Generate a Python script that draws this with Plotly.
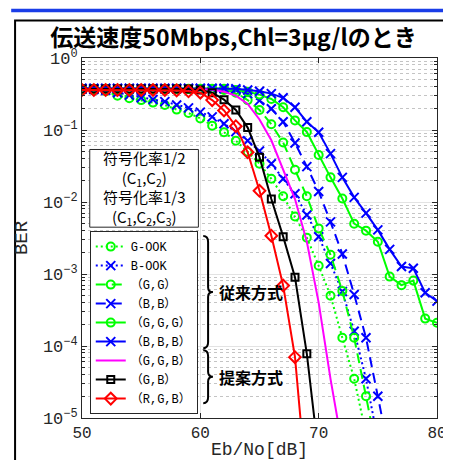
import plotly.graph_objects as go

# ---------------- data ----------------
snr = list(range(50, 81))  # Eb/No [dB]

g_ook = [0.36, 0.355, 0.345, 0.30, 0.277, 0.26, 0.24, 0.222, 0.192, 0.172, 0.145,
         0.115, 0.093, 0.071, 0.050, 0.034, 0.021, 0.012, 0.0063, 0.0032, 0.0013,
         0.0005, 0.00013, 0.000035, 0.000006]
b_ook = [0.37, 0.365, 0.355, 0.33, 0.305, 0.28, 0.265, 0.248, 0.222, 0.203, 0.177,
         0.152, 0.122, 0.095, 0.071, 0.051, 0.034, 0.021, 0.013, 0.0066, 0.0033,
         0.0014, 0.00057, 0.00016, 0.000035, 0.000005]
gg = [0.37, 0.37, 0.37, 0.37, 0.37, 0.37, 0.37, 0.37, 0.37, 0.37, 0.37, 0.37,
      0.36, 0.33, 0.26, 0.19, 0.12, 0.067, 0.028, 0.012, 0.0043, 0.00185,
      0.00058, 0.00013, 0.00002, 0.000003]
bb = [0.375, 0.375, 0.375, 0.375, 0.375, 0.375, 0.375, 0.375, 0.375, 0.375, 0.375,
      0.375, 0.375, 0.36, 0.32, 0.256, 0.197, 0.13, 0.066, 0.031, 0.014, 0.0053,
      0.0019, 0.00052, 0.00013, 0.00002, 0.000003]
ggg = [0.375, 0.375, 0.375, 0.375, 0.375, 0.375, 0.375, 0.375, 0.375, 0.375, 0.375,
       0.375, 0.375, 0.36, 0.34, 0.31, 0.27, 0.207, 0.136, 0.094, 0.045, 0.022,
       0.0112, 0.005, 0.004, 0.0028, 0.00092, 0.0007, 0.00081, 0.00024, 0.00021]
bbb = [0.38, 0.38, 0.38, 0.38, 0.38, 0.38, 0.38, 0.38, 0.38, 0.38, 0.38, 0.38,
       0.38, 0.375, 0.36, 0.345, 0.32, 0.28, 0.207, 0.13, 0.093, 0.047, 0.022,
       0.0116, 0.007, 0.0041, 0.0022, 0.00127, 0.0012, 0.00055, 0.00042]
ggb = [0.37, 0.37, 0.37, 0.37, 0.37, 0.37, 0.37, 0.37, 0.37, 0.37, 0.37, 0.365,
       0.34, 0.30, 0.23, 0.14, 0.072, 0.029, 0.011, 0.0028, 0.0004, 0.000035,
       0.000004]
gb = [0.37, 0.37, 0.37, 0.37, 0.37, 0.37, 0.37, 0.37, 0.37, 0.37, 0.36, 0.33,
      0.264, 0.19, 0.108, 0.042, 0.011, 0.0033, 0.0009, 0.000078, 0.000003]
rgb = [0.36, 0.36, 0.36, 0.36, 0.36, 0.36, 0.36, 0.36, 0.355, 0.345, 0.33, 0.26,
       0.187, 0.113, 0.049, 0.0143, 0.0034, 0.00069, 0.00007, 0.000001]

names = ["G-OOK", "B-OOK", "（G,G）", "（B,B）", "（G,G,G）", "（B,B,B）",
         "（G,G,B）", "（G,B）", "（R,G,B）"]
values = [g_ook, b_ook, gg, bb, ggg, bbb, ggb, gb, rgb]

x_ticks = [50, 60, 70, 80]
y_ticks = [1e-5, 1e-4, 1e-3, 1e-2, 1e-1, 1]
y_exps = ["−5", "−4", "−3", "−2", "−1", "0"]
y_minor = [k * 10.0 ** e for e in range(-5, 0) for k in range(2, 10)]

title_text = "伝送速度50Mbps,Chl=3μg/lのとき"
rate_text = ("符号化率1/2<br>(C<sub>1</sub>,C<sub>2</sub>)<br>"
             "符号化率1/3<br>(C<sub>1</sub>,C<sub>2</sub>,C<sub>3</sub>)")
group_labels = ["従来方式", "提案方式"]

y_ticktext = [f"10<sup>{e}</sup>" for e in y_exps]

# ---------------- styles ----------------
GREEN, BLUE, MAG, BLK, RED = "#00ff00", "#0000ff", "#ff00ff", "#000000", "#ff0000"
DOT, DASH = "2px,3px", "10px,6px"
styles = [
    dict(color=GREEN, dash=DOT, symbol="circle-open", size=8),
    dict(color=BLUE, dash=DOT, symbol="x-thin-open", size=9),
    dict(color=GREEN, dash=DASH, symbol="circle-open", size=8),
    dict(color=BLUE, dash=DASH, symbol="x-thin-open", size=9),
    dict(color=GREEN, dash="solid", symbol="circle-open", size=8),
    dict(color=BLUE, dash="solid", symbol="x-thin-open", size=9),
    dict(color=MAG, dash="solid", symbol=None, size=0),
    dict(color=BLK, dash="solid", symbol="square-open", size=7),
    dict(color=RED, dash="solid", symbol="diamond-open", size=9),
]

fig = go.Figure()
for name, vals, st in zip(names, values, styles):
    xs = snr[:len(vals)]
    mode = "lines" if st["symbol"] is None else "lines+markers"
    marker = None
    if st["symbol"] is not None:
        marker = dict(symbol=st["symbol"], size=st["size"], color=st["color"],
                      line=dict(color=st["color"], width=2))
    fig.add_trace(go.Scatter(x=xs, y=vals, name=name, mode=mode,
                             line=dict(color=st["color"], width=2, dash=st["dash"]),
                             marker=marker))

# ---------------- layout ----------------
W, H = 451, 460
L, R, T, B = 73, 12, 50, 44
PW, PH = W - L - R, H - T - B


def px2x(px):
    return (px - L) / PW


def py2y(py):
    return (T + PH - py) / PH


MONO = "Liberation Mono, Noto Sans CJK JP"
CJK = "Noto Sans CJK JP"

LEG_TOP, ITEM = 226, 19
BOX = (81, 143, 193, 222)  # left, top, right, bottom (px) of the code-rate box

shapes = [
    dict(type="rect", xref="paper", yref="paper", x0=px2x(0), x1=px2x(W),
         y0=py2y(0), y1=py2y(3.5), fillcolor="#1a3de8", line=dict(width=0)),
    dict(type="rect", xref="paper", yref="paper", x0=px2x(4), x1=px2x(447),
         y0=py2y(12), y1=py2y(475), line=dict(color="black", width=2)),
    dict(type="rect", xref="paper", yref="paper", x0=px2x(BOX[0]), x1=px2x(BOX[2]),
         y0=py2y(BOX[3]), y1=py2y(BOX[1]), fillcolor="white",
         line=dict(color="#262626", width=1), layer="above"),
]


def brace(xb, y0, y1):
    ym = (y0 + y1) / 2
    pts = [("M", xb, y0), ("Q", xb + 5, y0), ("", xb + 5, y0 + 6),
           ("L", xb + 5, ym - 5), ("Q", xb + 5, ym), ("", xb + 10, ym),
           ("Q", xb + 5, ym), ("", xb + 5, ym + 5),
           ("L", xb + 5, y1 - 6), ("Q", xb + 5, y1), ("", xb, y1)]
    path = " ".join(f"{c}{px2x(x):.5f},{py2y(y):.5f}" for c, x, y in pts)
    return dict(type="path", xref="paper", yref="paper", path=path,
                line=dict(color="black", width=2))


b1 = (LEG_TOP + 5, LEG_TOP + 5 + 6 * ITEM)
b2 = (LEG_TOP + 7 + 6 * ITEM, LEG_TOP + 4 + 9 * ITEM)
BX = 198
shapes.append(brace(BX, *b1))
shapes.append(brace(BX, *b2))

annotations = [
    dict(text=rate_text, xref="paper", yref="paper",
         x=px2x((BOX[0] + BOX[2]) / 2), y=py2y((BOX[1] + BOX[3]) / 2),
         xanchor="center", yanchor="middle", showarrow=False,
         font=dict(family=CJK, size=15, color="black")),
    dict(text=f"<b>{group_labels[0]}</b>", xref="paper", yref="paper",
         x=px2x(BX + 14), y=py2y(sum(b1) / 2), xanchor="left", yanchor="middle",
         showarrow=False, font=dict(family=CJK, size=16, color="black")),
    dict(text=f"<b>{group_labels[1]}</b>", xref="paper", yref="paper",
         x=px2x(BX + 14), y=py2y(sum(b2) / 2), xanchor="left", yanchor="middle",
         showarrow=False, font=dict(family=CJK, size=16, color="black")),
]

fig.update_layout(
    width=W, height=H, autosize=False,
    margin=dict(l=L, r=R, t=T, b=B, pad=0),
    paper_bgcolor="white", plot_bgcolor="white",
    title=dict(text=f"<b>{title_text}</b>", x=0.5, xref="container", xanchor="center",
               y=1 - 30 / H, yref="container", yanchor="middle",
               font=dict(family=CJK, size=23, color="black")),
    showlegend=True,
    legend=dict(x=px2x(81), y=py2y(LEG_TOP), xanchor="left", yanchor="top",
                bgcolor="white", bordercolor="#262626", borderwidth=1,
                font=dict(family=MONO, size=12, color="black"),
                itemwidth=30, tracegroupgap=0),
    shapes=shapes, annotations=annotations,
)

fig.update_xaxes(
    range=[50, 80], tickvals=x_ticks, ticks="inside", ticklen=5,
    tickcolor="#262626", showline=True, linecolor="#262626", linewidth=1,
    mirror="allticks", showgrid=True, gridcolor="#e3e3e3", gridwidth=1,
    zeroline=False, tickfont=dict(family=MONO, size=16, color="#262626"),
    title=dict(text="Eb/No[dB]", font=dict(family=MONO, size=18, color="#262626"),
               standoff=0),
)
fig.update_yaxes(
    type="log", range=[-5, 0], tickmode="array", tickvals=y_ticks,
    ticktext=y_ticktext, ticks="inside", ticklen=5, tickcolor="#262626",
    showline=True, linecolor="#262626", linewidth=1, mirror="allticks",
    showgrid=True, gridcolor="#e3e3e3", gridwidth=1, zeroline=False,
    tickfont=dict(family=MONO, size=17, color="#262626"),
    minor=dict(tickmode="array", tickvals=y_minor, ticks="inside", ticklen=3,
               tickcolor="#262626", showgrid=True, gridcolor="#c4c4c4",
               griddash="dot", gridwidth=1),
    title=dict(text="BER", font=dict(family=MONO, size=19, color="#262626"),
               standoff=10),
)

fig.write_html("out.html")
